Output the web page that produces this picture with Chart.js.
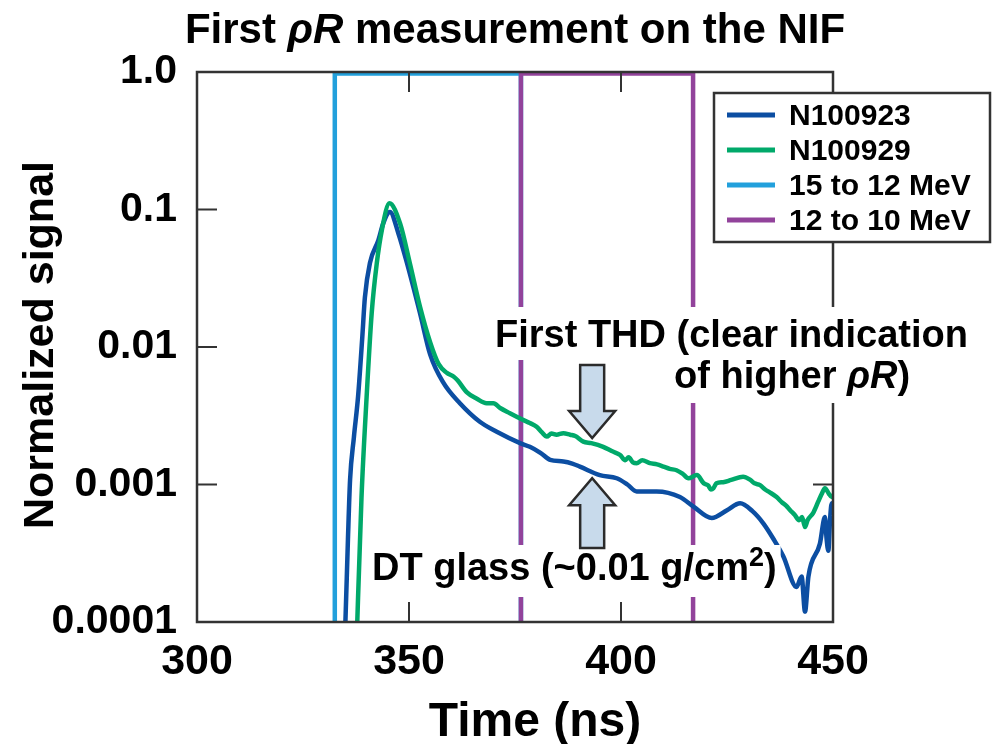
<!DOCTYPE html>
<html>
<head>
<meta charset="utf-8">
<script src="https://cdn.jsdelivr.net/npm/chart.js@4"></script>
<style>
  html, body { margin: 0; padding: 0; background: #fff; }
  #wrap { width: 992px; height: 744px; position: relative; }
</style>
</head>
<body>
<div id="wrap"><canvas id="chart"></canvas></div>
<script>
// N100923 (blue)
const time1 = [334.6, 335.0, 335.6, 336.1, 337.0, 338.0, 339.0, 339.6, 340.8, 342.8, 343.9, 345.5, 347.5, 349.5, 352.6, 355.0, 358.1, 362.0, 366.7, 370.7, 376.2, 378.5, 381.0, 383.3, 386.4, 388.5, 390.3, 395.0, 399.0, 401.5, 403.7, 408.4, 413.9, 417.1, 421.4, 425.0, 428.1, 431.0, 433.6, 436.0, 438.3, 441.4, 442.6, 443.4, 444.2, 446.9, 448.1, 448.5, 448.9, 449.3, 449.7, 450.0];
const sig1 = [0.00005, 0.0001, 0.0004, 0.00108, 0.0022, 0.0044, 0.012, 0.023, 0.041, 0.060, 0.079, 0.096, 0.067, 0.041, 0.0176, 0.0088, 0.0055, 0.0039, 0.00286, 0.00242, 0.0020, 0.00188, 0.0017, 0.00151, 0.00147, 0.00142, 0.00135, 0.00117, 0.00111, 0.0010, 0.00089, 0.00089, 0.00081, 0.00069, 0.00057, 0.00065, 0.00073, 0.00064, 0.00052, 0.0004, 0.0003, 0.00018, 0.000214, 0.000119, 0.000214, 0.00037, 0.00058, 0.0004, 0.00033, 0.00055, 0.00073, 0.0006];

// N100929 (green)
const time2 = [337.5, 337.8, 338.8, 340.0, 341.2, 342.4, 343.6, 345.4, 347.9, 350.2, 352.6, 355.0, 357.0, 358.9, 360.5, 361.5, 363.6, 366.0, 368.3, 369.9, 371.5, 373.8, 375.5, 377.0, 378.5, 380.1, 381.3, 382.5, 383.6, 384.8, 386.4, 388.0, 389.2, 391.1, 393.0, 395.8, 397.8, 399.8, 401.0, 401.8, 402.8, 403.7, 405.0, 406.8, 408.5, 410.0, 411.5, 413.1, 414.5, 415.9, 417.9, 419.5, 420.6, 421.2, 421.8, 422.5, 424.1, 426.0, 428.8, 430.5, 431.5, 432.8, 434.0, 435.0, 436.7, 438.0, 439.0, 439.9, 441.0, 442.0, 442.7, 443.4, 444.0, 445.3, 446.5, 447.3, 448.1, 449.0, 449.7, 450.0];
const sig2 = [0.00005, 0.0001, 0.00081, 0.0043, 0.0176, 0.0406, 0.071, 0.111, 0.079, 0.0406, 0.0196, 0.0108, 0.0075, 0.0065, 0.0061, 0.0057, 0.0047, 0.0042, 0.0039, 0.0039, 0.0036, 0.0033, 0.0031, 0.00294, 0.0028, 0.00263, 0.0024, 0.00223, 0.00235, 0.0023, 0.00236, 0.0023, 0.00225, 0.00205, 0.0020, 0.00188, 0.00175, 0.00164, 0.0015, 0.00158, 0.00145, 0.00143, 0.0015, 0.00143, 0.0014, 0.00135, 0.0013, 0.00127, 0.0012, 0.00111, 0.00117, 0.00102, 0.00098, 0.00092, 0.00094, 0.00102, 0.00104, 0.00108, 0.00114, 0.00108, 0.00102, 0.00099, 0.00092, 0.00088, 0.00081, 0.00074, 0.0007, 0.00065, 0.0006, 0.00055, 0.00058, 0.00049, 0.00055, 0.00062, 0.00075, 0.00085, 0.00094, 0.00086, 0.00081, 0.00085];

// energy windows (open boxes)
const win1X = [332.5, 332.5, 376.4, 376.4];
const win1Y = [0.00005, 0.975, 0.975, 0.00005];
const win2X = [376.4, 376.4, 417.0, 417.0];
const win2Y = [0.00005, 0.975, 0.975, 0.00005];

const seriesNames = ['N100923', 'N100929', '15 to 12 MeV', '12 to 10 MeV'];
const seriesColors = ['#0C4EA2', '#00A96A', '#22A0DC', '#92439B'];

const xTicks = [300, 350, 400, 450];
const yTicks = [0.0001, 0.001, 0.01, 0.1, 1];
const yTickLabels = ['0.0001', '0.001', '0.01', '0.1', '1.0'];

const FONT = '"Liberation Sans", Arial, Helvetica, sans-serif';

function pts(xs, ys) { return xs.map((x, i) => ({x: x, y: ys[i]})); }

// draw text runs with optional italic / superscript
function richText(ctx, runs, x, y, size, align) {
  const fontOf = r => (r.italic ? 'italic ' : '') + 'bold ' + (r.sup ? Math.round(size * 0.72) : size) + 'px ' + FONT;
  let total = 0;
  runs.forEach(r => { ctx.font = fontOf(r); total += ctx.measureText(r.t).width; });
  let cx = align === 'center' ? x - total / 2 : x;
  ctx.textAlign = 'left';
  ctx.textBaseline = 'alphabetic';
  runs.forEach(r => {
    ctx.font = fontOf(r);
    ctx.fillText(r.t, cx, r.sup ? y - size * 0.36 : y);
    cx += ctx.measureText(r.t).width;
  });
  return total;
}

function textWidth(ctx, runs, size) {
  let w = 0;
  runs.forEach(r => {
    ctx.font = (r.italic ? 'italic ' : '') + 'bold ' + (r.sup ? Math.round(size * 0.72) : size) + 'px ' + FONT;
    w += ctx.measureText(r.t).width;
  });
  return w;
}

function arrow(ctx, cx, tail, tip) {
  const dir = tip > tail ? 1 : -1;
  const sw = 12, hw = 23, hl = 27 * dir;
  ctx.beginPath();
  ctx.moveTo(cx - sw, tail);
  ctx.lineTo(cx - sw, tip - hl);
  ctx.lineTo(cx - hw, tip - hl);
  ctx.lineTo(cx, tip);
  ctx.lineTo(cx + hw, tip - hl);
  ctx.lineTo(cx + sw, tip - hl);
  ctx.lineTo(cx + sw, tail);
  ctx.closePath();
  ctx.fillStyle = '#C8DAEB';
  ctx.fill();
  ctx.lineWidth = 2.5;
  ctx.strokeStyle = '#2b2b2b';
  ctx.lineJoin = 'miter';
  ctx.stroke();
}

const decor = {
  id: 'decor',
  beforeDraw(chart) {
    const ctx = chart.ctx;
    ctx.save();
    ctx.fillStyle = '#fff';
    ctx.fillRect(0, 0, chart.width, chart.height);
    ctx.restore();
  },
  afterDatasetsDraw(chart) {
    const ctx = chart.ctx;
    const a = chart.chartArea;
    const xs = chart.scales.x, ys = chart.scales.y;
    ctx.save();

    // frame
    ctx.strokeStyle = '#333';
    ctx.lineWidth = 2.5;
    ctx.strokeRect(a.left, a.top, a.right - a.left, a.bottom - a.top);

    // inward ticks on all four sides
    ctx.lineWidth = 2;
    ctx.beginPath();
    [350, 400].forEach(v => {
      const px = xs.getPixelForValue(v);
      ctx.moveTo(px, a.bottom); ctx.lineTo(px, a.bottom - 20);
      ctx.moveTo(px, a.top); ctx.lineTo(px, a.top + 20);
    });
    [0.001, 0.01, 0.1].forEach(v => {
      const py = ys.getPixelForValue(v);
      ctx.moveTo(a.left, py); ctx.lineTo(a.left + 20, py);
      ctx.moveTo(a.right, py); ctx.lineTo(a.right - 20, py);
    });
    ctx.stroke();

    ctx.fillStyle = '#000';
    // main title
    richText(ctx, [{t: 'First '}, {t: '\u03C1R', italic: true}, {t: ' measurement on the NIF'}], 515, 43, 42, 'center');

    // axis titles
    ctx.font = 'bold 48px ' + FONT;
    ctx.textAlign = 'center';
    ctx.textBaseline = 'alphabetic';
    ctx.fillText('Time (ns)', 535, 736);
    ctx.save();
    ctx.translate(53, 345);
    ctx.rotate(-Math.PI / 2);
    ctx.font = 'bold 43px ' + FONT;
    ctx.fillText('Normalized signal', 0, 0);
    ctx.restore();

    // annotations with white backing (they interrupt the window lines)
    const fs = 38;
    const l1 = [{t: 'First THD (clear indication'}];
    const l2 = [{t: 'of higher '}, {t: '\u03C1R', italic: true}, {t: ')'}];
    const l3 = [{t: 'DT glass (~0.01 g/cm'}, {t: '2', sup: true}, {t: ')'}];
    ctx.fillStyle = '#fff';
    ctx.fillRect(490, 307, textWidth(ctx, l1, fs) + 10, 53);
    ctx.fillRect(670, 358, textWidth(ctx, l2, fs) + 8, 45);
    ctx.fillRect(368, 545, textWidth(ctx, l3, fs) + 8, 52);
    ctx.fillStyle = '#000';
    richText(ctx, l1, 495, 347, fs, 'left');
    richText(ctx, l2, 674, 388, fs, 'left');
    richText(ctx, l3, 372, 580, fs, 'left');

    // arrows
    const ax = xs.getPixelForValue(393.2);
    arrow(ctx, ax, ys.getPixelForValue(0.0074), ys.getPixelForValue(0.00218));
    arrow(ctx, ax, ys.getPixelForValue(0.000345), ys.getPixelForValue(0.00111));

    // legend
    ctx.fillStyle = '#fff';
    ctx.fillRect(714, 93, 276, 149);
    ctx.strokeStyle = '#333';
    ctx.lineWidth = 2.5;
    ctx.strokeRect(714, 93, 276, 149);
    ctx.font = 'bold 30px ' + FONT;
    ctx.textAlign = 'left';
    ctx.textBaseline = 'middle';
    seriesNames.forEach((name, i) => {
      const y = 115 + i * 35;
      ctx.strokeStyle = seriesColors[i];
      ctx.lineWidth = 5;
      ctx.beginPath();
      ctx.moveTo(727, y); ctx.lineTo(775, y);
      ctx.stroke();
      ctx.fillStyle = '#000';
      ctx.fillText(name, 789, y + 2);
    });
    ctx.restore();
  }
};

new Chart(document.getElementById('chart'), {
  type: 'line',
  data: {
    datasets: [
      {label: seriesNames[0], data: pts(time1, sig1), borderColor: seriesColors[0], borderWidth: 4.5, order: 1, cubicInterpolationMode: 'monotone'},
      {label: seriesNames[1], data: pts(time2, sig2), borderColor: seriesColors[1], borderWidth: 4.5, order: 0, cubicInterpolationMode: 'monotone'},
      {label: seriesNames[2], data: pts(win1X, win1Y), borderColor: seriesColors[2], borderWidth: 4.5, order: 3, borderJoinStyle: 'miter'},
      {label: seriesNames[3], data: pts(win2X, win2Y), borderColor: seriesColors[3], borderWidth: 4.5, order: 2, borderJoinStyle: 'miter'}
    ]
  },
  options: {
    responsive: true,
    maintainAspectRatio: false,
    animation: false,
    layout: {padding: {top: 72, right: 159, left: 0, bottom: 0}},
    elements: {point: {radius: 0}, line: {tension: 0, fill: false}},
    plugins: {legend: {display: false}, title: {display: false}, tooltip: {enabled: false}},
    scales: {
      x: {
        type: 'linear', min: 300, max: 450,
        afterFit: s => { s.height = 122; },
        afterBuildTicks: s => { s.ticks = xTicks.map(v => ({value: v})); },
        grid: {display: false, drawTicks: false},
        border: {display: false},
        ticks: {color: '#000', padding: 14, maxRotation: 0, font: {family: FONT, size: 43, weight: 'bold'}}
      },
      y: {
        type: 'logarithmic', min: 0.0001, max: 1,
        afterFit: s => { s.width = 197; },
        afterBuildTicks: s => { s.ticks = yTicks.map(v => ({value: v})); },
        grid: {display: false, drawTicks: false},
        border: {display: false},
        ticks: {
          color: '#000', padding: 20, font: {family: FONT, size: 41, weight: 'bold'},
          callback: v => yTickLabels[yTicks.indexOf(v)]
        }
      }
    }
  },
  plugins: [decor]
});
</script>
</body>
</html>
